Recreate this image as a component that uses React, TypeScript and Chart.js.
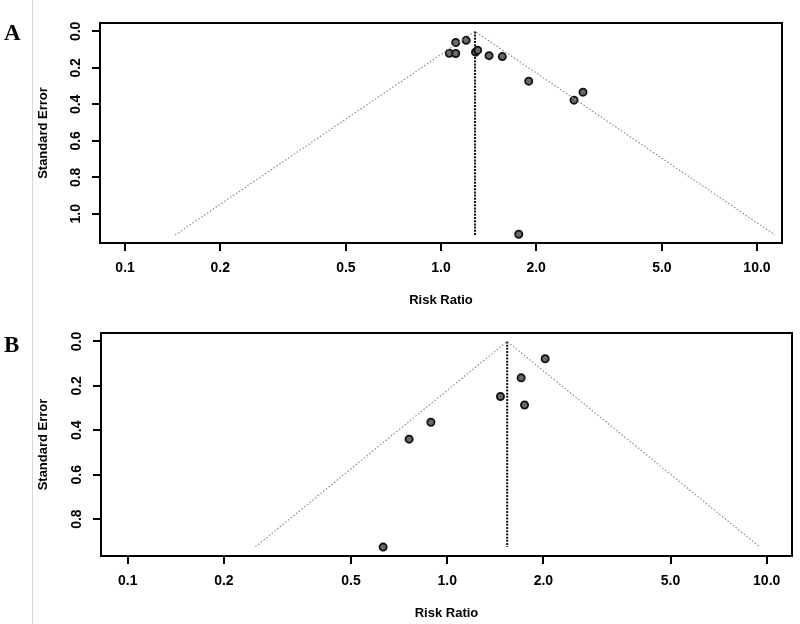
import React, { useEffect, useRef, useState } from "react";
import { Chart, registerables } from "chart.js";

Chart.register(...registerables);

// ---------- data ----------
const xTickValues = [0.1, 0.2, 0.5, 1, 2, 5, 10];
const xTickLabels = ["0.1", "0.2", "0.5", "1.0", "2.0", "5.0", "10.0"];

const yTickValuesA = [0, 0.2, 0.4, 0.6, 0.8, 1.0];
const yTickLabelsA = ["0.0", "0.2", "0.4", "0.6", "0.8", "1.0"];
const yTickValuesB = [0, 0.2, 0.4, 0.6, 0.8];
const yTickLabelsB = ["0.0", "0.2", "0.4", "0.6", "0.8"];

// Panel A studies
const riskRatioA = [1.062, 1.113, 1.113, 1.201, 1.286, 1.306, 1.419, 1.563, 1.895, 2.636, 2.814, 1.762];
const stdErrorA = [0.12, 0.121, 0.061, 0.049, 0.114, 0.103, 0.133, 0.138, 0.273, 0.377, 0.333, 1.112];
const funnelRRA = [0.144, 1.281, 11.4];
const funnelSEA = [1.116, 0, 1.116];
const pooledRRA = [1.281, 1.281];
const pooledSEA = [0, 1.116];

// Panel B studies
const riskRatioB = [2.026, 1.704, 1.468, 1.746, 0.889, 0.76, 0.63];
const stdErrorB = [0.078, 0.164, 0.248, 0.286, 0.364, 0.44, 0.926];
const funnelRRB = [0.251, 1.541, 9.51];
const funnelSEB = [0.925, 0, 0.925];
const pooledRRB = [1.541, 1.541];
const pooledSEB = [0, 0.925];

// ---------- styling ----------
const FONT = "'Liberation Sans', Arial, Helvetica, sans-serif";
const CANVAS_W = 800;
const CANVAS_H = 312;
const X_AXIS_H = 67;
const LEFT_PAD = 30;
const TICK_LEN = 8;

type Panel = {
  rr: number[];
  se: number[];
  fx: number[];
  fy: number[];
  px: number[];
  py: number[];
  yVals: number[];
  yLabels: string[];
  xMin: number;
  xMax: number;
  yMin: number;
  yMax: number;
  box: { left: number; top: number; right: number; bottom: number };
};

const panelA: Panel = {
  rr: riskRatioA,
  se: stdErrorA,
  fx: funnelRRA,
  fy: funnelSEA,
  px: pooledRRA,
  py: pooledSEA,
  yVals: yTickValuesA,
  yLabels: yTickLabelsA,
  xMin: 0.0833,
  xMax: 12.0,
  yMin: -0.046,
  yMax: 1.16,
  box: { left: 100, top: 23, right: 782, bottom: 243 },
};

const panelB: Panel = {
  rr: riskRatioB,
  se: stdErrorB,
  fx: funnelRRB,
  fy: funnelSEB,
  px: pooledRRB,
  py: pooledSEB,
  yVals: yTickValuesB,
  yLabels: yTickLabelsB,
  xMin: 0.0825,
  xMax: 12.0,
  yMin: -0.038,
  yMax: 0.966,
  box: { left: 101, top: 21, right: 792, bottom: 244 },
};

type Marks = { xs: number[]; ys: number[]; l: number; t: number; r: number; b: number } | null;

function readMarks(chart: any): Marks {
  const { chartArea } = chart;
  const xs = chart.scales.x;
  const ys = chart.scales.y;
  return {
    xs: xTickValues.map((v) => Math.round(xs.getPixelForValue(v))),
    ys: (ys.ticks as any[]).map((tk) => Math.round(ys.getPixelForValue(tk.value))),
    l: Math.round(chartArea.left),
    t: Math.round(chartArea.top),
    r: Math.round(chartArea.right),
    b: Math.round(chartArea.bottom),
  };
}

const framePlugin = {
  id: "plotBox",
  afterDraw(chart: any) {
    const m = readMarks(chart);
    if (!m) return;
    const ctx = chart.ctx;
    ctx.save();
    ctx.fillStyle = "#000";
    ctx.fillRect(m.l - 1, m.t - 1, m.r - m.l + 2, 2);
    ctx.fillRect(m.l - 1, m.b - 1, m.r - m.l + 2, 2);
    ctx.fillRect(m.l - 1, m.t - 1, 2, m.b - m.t + 2);
    ctx.fillRect(m.r - 1, m.t - 1, 2, m.b - m.t + 2);
    m.xs.forEach((px) => ctx.fillRect(px - 1, m.b, 2, TICK_LEN));
    m.ys.forEach((py) => ctx.fillRect(m.l - TICK_LEN, py - 1, TICK_LEN, 2));
    ctx.restore();
  },
};

function makeChart(canvas: HTMLCanvasElement, p: Panel) {
  const datasets: any[] = [
    {
      label: "funnel",
      data: p.fx.map((x, i) => ({ x, y: p.fy[i] })),
      showLine: true,
      pointRadius: 0,
      borderColor: "#8c8c8c",
      borderWidth: 1.2,
      borderDash: [1.5, 2],
    },
    {
      label: "pooled",
      data: p.px.map((x, i) => ({ x, y: p.py[i] })),
      showLine: true,
      pointRadius: 0,
      borderColor: "#111",
      borderWidth: 2,
      borderDash: [2, 1.2],
    },
    {
      label: "studies",
      data: p.rr.map((x, i) => ({ x, y: p.se[i] })),
      pointRadius: 3.6,
      pointBackgroundColor: "#686868",
      pointBorderColor: "#111",
      pointBorderWidth: 1.8,
    },
  ];
  const x: any = {
    type: "logarithmic",
    min: p.xMin,
    max: p.xMax,
    bounds: "data",
    afterBuildTicks: (s: any) => {
      s.ticks = xTickValues.map((v) => ({ value: v }));
    },
    afterFit: (s: any) => {
      s.height = X_AXIS_H;
    },
    ticks: {
      callback: (_v: any, i: number) => xTickLabels[i],
      autoSkip: false,
      padding: 9,
      color: "#000",
      font: { family: FONT, size: 14, weight: "bold" },
    },
    grid: { drawOnChartArea: false, tickLength: TICK_LEN, color: "#000", lineWidth: 2 },
    title: {
      display: true,
      text: "Risk Ratio",
      color: "#000",
      font: { family: FONT, size: 13, weight: "bold" },
      padding: { top: 0, bottom: 2 },
    },
  };
  const y: any = {
    reverse: true,
    min: p.yMin,
    max: p.yMax,
    afterBuildTicks: (s: any) => {
      s.ticks = p.yVals.map((v) => ({ value: v }));
    },
    afterFit: (s: any) => {
      s.width = p.box.left - LEFT_PAD;
    },
    ticks: {
      callback: (_v: any, i: number) => p.yLabels[i],
      autoSkip: false,
      minRotation: 90,
      maxRotation: 90,
      crossAlign: "center",
      padding: 6,
      color: "#000",
      font: { family: FONT, size: 14, weight: "bold" },
    },
    grid: { drawOnChartArea: false, tickLength: TICK_LEN, color: "#000", lineWidth: 2 },
    title: {
      display: true,
      text: "Standard Error",
      color: "#000",
      font: { family: FONT, size: 13, weight: "bold" },
      padding: { top: 5.5, bottom: 0 },
    },
  };
  return new Chart(canvas, {
    type: "scatter",
    data: { datasets },
    options: {
      responsive: false,
      animation: false,
      devicePixelRatio: 1,
      layout: {
        padding: {
          left: LEFT_PAD,
          top: p.box.top,
          right: CANVAS_W - p.box.right,
          bottom: CANVAS_H - p.box.bottom - X_AXIS_H,
        },
      },
      plugins: { legend: { display: false }, tooltip: { enabled: false } },
      scales: { x, y },
    } as any,
    plugins: [framePlugin],
  });
}

function FunnelCell({ panel, top }: { panel: Panel; top: number }) {
  const ref = useRef<HTMLCanvasElement | null>(null);
  const [marks, setMarks] = useState<Marks>(null);
  useEffect(() => {
    if (!ref.current) return;
    const chart = makeChart(ref.current, panel);
    setMarks(readMarks(chart));
    return () => chart.destroy();
  }, [panel]);
  return (
    <div style={{ position: "absolute", left: 0, top, width: CANVAS_W, height: CANVAS_H }}>
      <canvas ref={ref} width={CANVAS_W} height={CANVAS_H} style={{ display: "block" }} />
      {marks &&
        marks.xs.map((px, i) => (
          <div
            key={"xt" + i}
            style={{ position: "absolute", left: px - 1, top: marks.b, width: 2, height: TICK_LEN, background: "#000" }}
          />
        ))}
      {marks &&
        marks.ys.map((py, i) => (
          <div
            key={"yt" + i}
            style={{ position: "absolute", left: marks.l - TICK_LEN, top: py - 1, width: TICK_LEN, height: 2, background: "#000" }}
          />
        ))}
    </div>
  );
}

const letterStyle: React.CSSProperties = {
  position: "absolute",
  left: 4,
  fontFamily: "'Liberation Serif', 'Times New Roman', serif",
  fontWeight: "bold",
  fontSize: 23,
  lineHeight: "23px",
  color: "#000",
};

export default function App() {
  return (
    <div style={{ position: "absolute", left: 0, top: 0, width: 800, height: 624, background: "#fff" }}>
      <FunnelCell panel={panelA} top={0} />
      <FunnelCell panel={panelB} top={312} />
      <div style={{ position: "absolute", left: 32, top: 0, width: 1, height: 624, background: "#d6d6d6" }} />
      <div style={{ ...letterStyle, top: 21 }}>A</div>
      <div style={{ ...letterStyle, top: 333 }}>B</div>
    </div>
  );
}
